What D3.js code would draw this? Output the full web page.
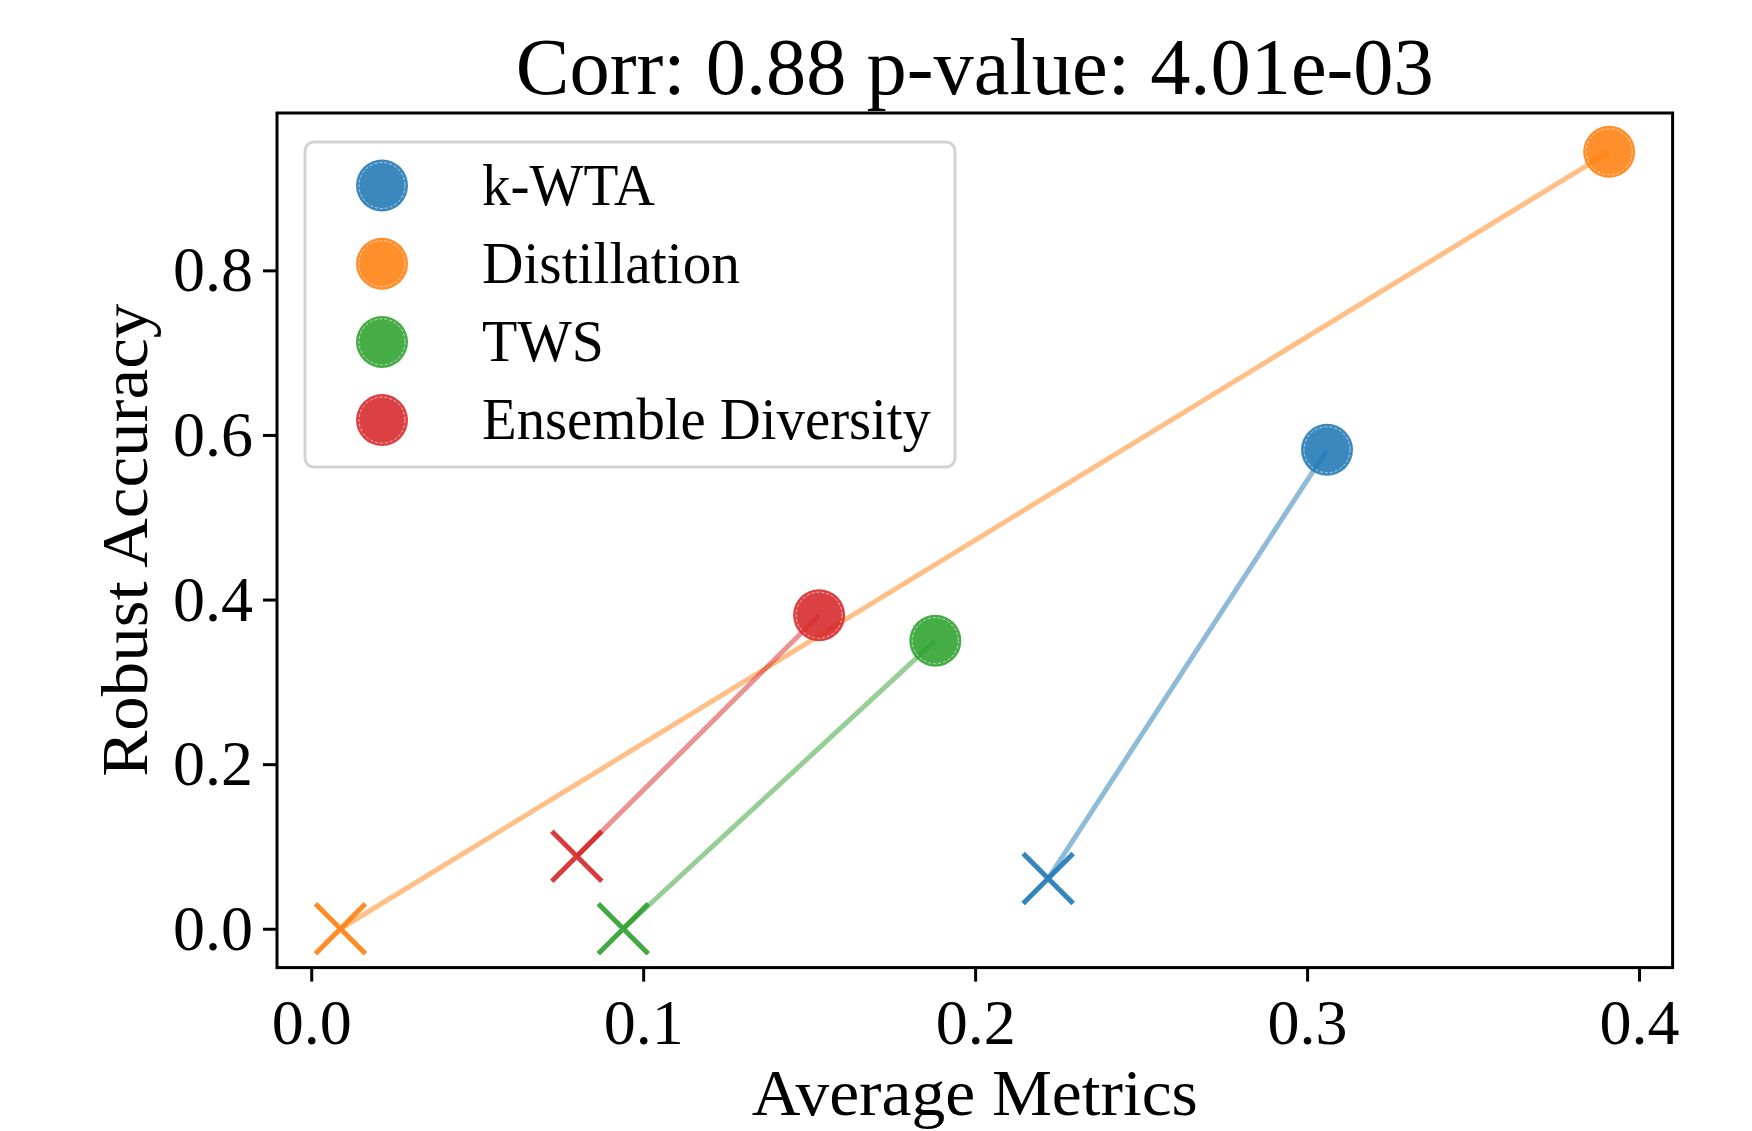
<!DOCTYPE html>
<html>
<head>
<meta charset="utf-8">
<script src="https://cdn.jsdelivr.net/npm/d3@7"></script>
<style>
  html, body { margin: 0; padding: 0; background: #fff; }
  svg { display: block; }
  text { font-family: "Liberation Serif", "DejaVu Serif", serif; fill: #000; }
</style>
</head>
<body>
<svg id="chart" width="1752" height="1131"></svg>
<script>
// ---- data ----
const methods = ["k-WTA", "Distillation", "TWS", "Ensemble Diversity"];
const colors = ["#1f77b4", "#ff7f0e", "#2ca02c", "#d62728"];
const startX = [0.222, 0.0088, 0.094, 0.080];   // cross markers
const startY = [0.061, 0.000, 0.000, 0.088];
const endX = [0.306, 0.391, 0.188, 0.153];      // circle markers
const endY = [0.582, 0.944, 0.350, 0.381];
const xTicks = [0.0, 0.1, 0.2, 0.3, 0.4];
const yTicks = [0.0, 0.2, 0.4, 0.6, 0.8];
const titleText = "Corr: 0.88 p-value: 4.01e-03";
const xLabel = "Average Metrics";
const yLabel = "Robust Accuracy";

// ---- layout ----
const plot = { left: 277, right: 1672.6, top: 113, bottom: 967.6 };
const svg = d3.select("#chart");

const allX = startX.concat(endX), allY = startY.concat(endY);
const xr = d3.extent(allX), yr = d3.extent(allY);
const xm = (xr[1] - xr[0]) * 0.05, ym = (yr[1] - yr[0]) * 0.05;
const x = d3.scaleLinear().domain([xr[0] - xm, xr[1] + xm]).range([plot.left, plot.right]);
const y = d3.scaleLinear().domain([yr[0] - ym, yr[1] + ym]).range([plot.bottom, plot.top]);

// axes
const fmt = d3.format(".1f");
const gx = svg.append("g").attr("transform", `translate(0,${plot.bottom})`)
  .call(d3.axisBottom(x).tickValues(xTicks).tickFormat(fmt).tickSize(14).tickSizeOuter(0).tickPadding(16));
const gy = svg.append("g").attr("transform", `translate(${plot.left},0)`)
  .call(d3.axisLeft(y).tickValues(yTicks).tickFormat(fmt).tickSize(14).tickSizeOuter(0).tickPadding(10));
[gx, gy].forEach(g => {
  g.select(".domain").remove();
  g.selectAll(".tick line").attr("stroke", "#000").attr("stroke-width", 3);
  g.selectAll(".tick text").attr("font-size", 64).attr("font-family", "Liberation Serif");
});
gx.selectAll(".tick text").attr("dy", "0.72em");

// connecting lines
const idx = d3.range(methods.length);
svg.append("g").selectAll("line").data(idx).join("line")
  .attr("x1", i => x(startX[i])).attr("y1", i => y(startY[i]))
  .attr("x2", i => x(endX[i])).attr("y2", i => y(endY[i]))
  .attr("stroke", i => colors[i]).attr("stroke-opacity", 0.5)
  .attr("stroke-width", 5);

// cross markers
const cs = 25;
const crosses = svg.append("g").selectAll("g").data(idx).join("g")
  .attr("transform", i => `translate(${x(startX[i])},${y(startY[i])})`)
  .attr("opacity", 0.9);
crosses.append("path")
  .attr("d", `M${-cs},${-cs}L${cs},${cs}M${-cs},${cs}L${cs},${-cs}`)
  .attr("stroke", i => colors[i]).attr("stroke-width", 5).attr("fill", "none");

// circle markers
const R = 26;
function circleMarker(sel, i) {
  sel.append("circle").attr("r", R).attr("fill", colors[i]).attr("fill-opacity", 0.88);
  sel.append("circle").attr("r", R - 3).attr("fill", "none").attr("stroke", "#fff")
    .attr("stroke-width", 1).attr("stroke-opacity", 0.6).attr("stroke-dasharray", "3,2");
}
svg.append("g").selectAll("g").data(idx).join("g")
  .attr("transform", i => `translate(${x(endX[i])},${y(endY[i])})`)
  .each(function(i) { circleMarker(d3.select(this), i); });

// spines
svg.append("rect")
  .attr("x", plot.left).attr("y", plot.top)
  .attr("width", plot.right - plot.left).attr("height", plot.bottom - plot.top)
  .attr("fill", "none").attr("stroke", "#000").attr("stroke-width", 3);

// legend
const leg = { x: 305, y: 142, w: 650, h: 325 };
svg.append("rect").attr("x", leg.x).attr("y", leg.y).attr("width", leg.w).attr("height", leg.h)
  .attr("rx", 9).attr("fill", "#fff").attr("fill-opacity", 0.85)
  .attr("stroke", "#d3d3d3").attr("stroke-width", 3);
const rowY = [185.5, 263.7, 341.9, 420.1];
const legLen = [173, 258, 122, 449];
const legRows = svg.append("g").selectAll("g").data(idx).join("g")
  .attr("transform", i => `translate(382,${rowY[i]})`);
legRows.each(function(i) { circleMarker(d3.select(this), i); });
legRows.append("text").attr("x", 100).attr("y", 19)
  .attr("font-size", 59)
  .attr("textLength", i => legLen[i]).attr("lengthAdjust", "spacingAndGlyphs")
  .text(i => methods[i]);

// title and axis labels
svg.append("text").attr("x", (plot.left + plot.right) / 2).attr("y", 94)
  .attr("text-anchor", "middle").attr("font-size", 80)
  .attr("textLength", 918).attr("lengthAdjust", "spacingAndGlyphs")
  .text(titleText);
svg.append("text").attr("x", (plot.left + plot.right) / 2).attr("y", 1115)
  .attr("text-anchor", "middle").attr("font-size", 66)
  .attr("textLength", 446).attr("lengthAdjust", "spacingAndGlyphs")
  .text(xLabel);
svg.append("text")
  .attr("transform", `translate(147,${(plot.top + plot.bottom) / 2}) rotate(-90)`)
  .attr("text-anchor", "middle").attr("font-size", 66)
  .attr("textLength", 473).attr("lengthAdjust", "spacingAndGlyphs")
  .text(yLabel);
</script>
</body>
</html>
